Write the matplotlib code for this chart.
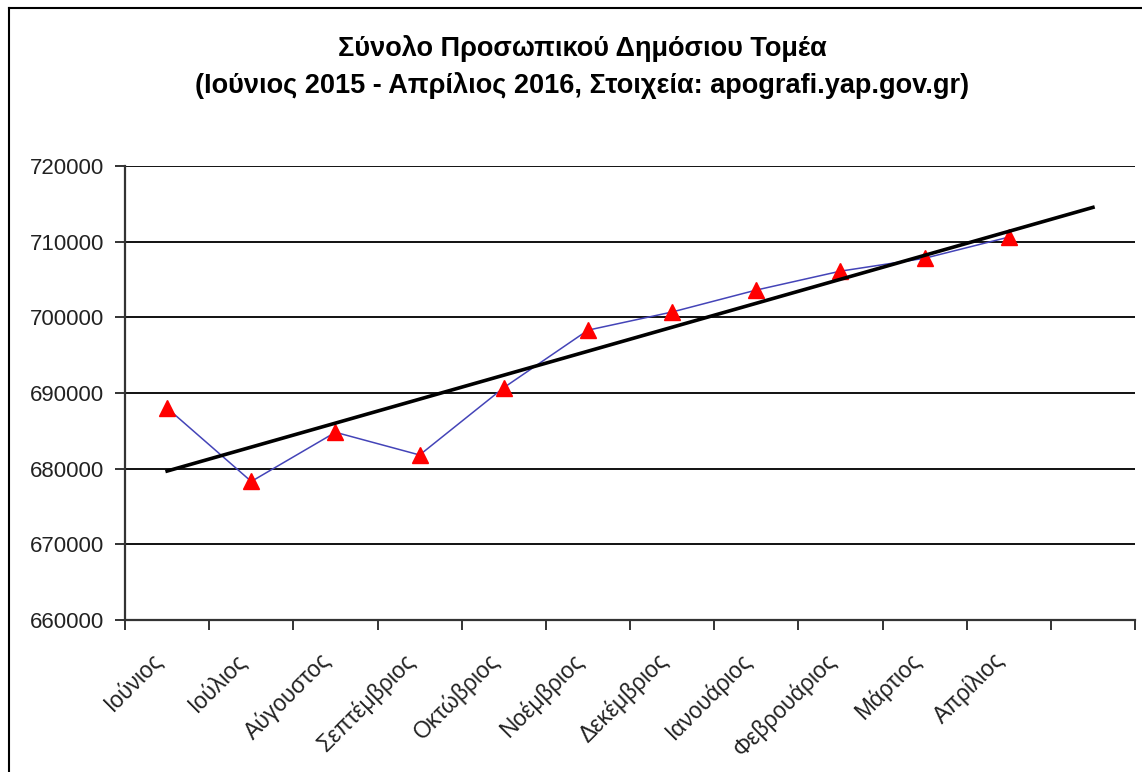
import numpy as np
import matplotlib
matplotlib.use("Agg")
import matplotlib.pyplot as plt
from matplotlib.lines import Line2D
from matplotlib.transforms import ScaledTranslation

plt.rcParams['font.family'] = ['Liberation Sans', 'DejaVu Sans']

# months (June 2015 - April 2016)
months = ['Ιούνιος', 'Ιούλιος', 'Αύγουστος', 'Σεπτέμβριος', 'Οκτώβριος',
          'Νοέμβριος', 'Δεκέμβριος', 'Ιανουάριος', 'Φεβρουάριος', 'Μάρτιος',
          'Απρίλιος']
# total public sector staff
staff = [688000, 678300, 684800, 681800, 690700, 698300, 700700,
         703600, 706100, 707800, 710600]
yticks = [660000, 670000, 680000, 690000, 700000, 710000, 720000]

fig = plt.figure(figsize=(11.42, 7.72), dpi=100)
ax = fig.add_axes([0.1095, 0.197, 0.8844, 0.588])

x = np.arange(len(months))
ax.plot(x, staff, color='#4444b8', linewidth=1.1, zorder=3)
ax.plot(x, staff, linestyle='none', marker='^', markersize=11,
        color='#ff0000', zorder=4)

# linear trend, forecast one period forward (like excel)
coef = np.polyfit(x, staff, 1)
xt = np.array([0, len(months)])
ax.plot(xt, np.polyval(coef, xt), color='black', linewidth=2.6, zorder=5)

ax.set_xlim(-0.5, len(months) + 0.5)
ax.set_ylim(yticks[0], yticks[-1])
ax.set_yticks(yticks)
ax.set_yticklabels([str(v) for v in yticks], fontsize=16, color='#222222')
ax.yaxis.grid(True, color='#111111', linewidth=1.4)
ax.set_axisbelow(True)

# ticks between the categories, month names at the centres
ax.set_xticks(np.arange(-0.5, len(months) + 1, 1))
ax.set_xticklabels([])
ax.tick_params(axis='x', which='major', length=7, width=1.4, color='#333333')
ax.tick_params(axis='y', length=7, width=1.4, color='#333333', pad=8)

lab_trans = ax.get_xaxis_transform() + ScaledTranslation(-0.16, -0.29, fig.dpi_scale_trans)
for xi, m in zip(x, months):
    ax.text(xi, 0, m, transform=lab_trans, rotation=45, ha='right', va='top',
            rotation_mode='anchor', fontsize=16.5, color='#222222', clip_on=False)

for s in ['top', 'right']:
    ax.spines[s].set_visible(False)
for s in ['left', 'bottom']:
    ax.spines[s].set_linewidth(1.6)
    ax.spines[s].set_color('#333333')

fig.text(0.51, 0.937, 'Σύνολο Προσωπικού Δημόσιου Τομέα',
         ha='center', va='center', fontsize=19.5, fontweight='bold')
fig.text(0.51, 0.889,
         '(Ιούνιος 2015 - Απρίλιος 2016, Στοιχεία: apografi.yap.gov.gr)',
         ha='center', va='center', fontsize=19.5, fontweight='bold')

# chart border (left and top visible)
fig.add_artist(Line2D([0.008, 0.008], [0, 0.989], color='black', linewidth=1.5))
fig.add_artist(Line2D([0.008, 1], [0.989, 0.989], color='black', linewidth=1.5))

fig.savefig('out.png', dpi=100)
